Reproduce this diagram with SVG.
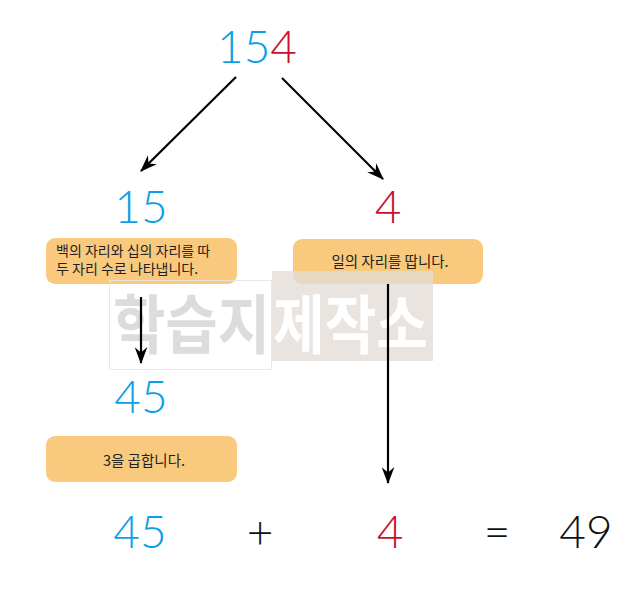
<svg xmlns="http://www.w3.org/2000/svg" width="642" height="594" viewBox="0 0 642 594">
<defs>
<style>
.num{font-family:Lato,"Open Sans","Noto Sans",sans-serif;font-weight:300;font-size:46px;text-anchor:middle}
.blue{fill:#0aa0e6}
.red{fill:#c8102e}
.blk{fill:#111}
.box{fill:#f9ca7e}
.lbl{font-family:"Noto Sans CJK KR","Noto Sans",sans-serif;font-size:14.5px;fill:#222}
.edge{stroke:#000;stroke-width:2.2;fill:none;marker-end:url(#ah)}
.wm{font-family:"Noto Sans CJK KR",sans-serif;font-weight:700;font-size:64px}
</style>
<marker id="ah" viewBox="0 0 16 12" refX="15" refY="6" markerWidth="17" markerHeight="13" orient="auto" markerUnits="userSpaceOnUse">
<path d="M0,0 L16,6 L0,12 L5,6 Z" fill="#000"/>
</marker>
</defs>
<rect width="642" height="594" fill="#fff"/>

<g id="n154"><text class="num" x="257" y="63"><tspan class="blue">15</tspan><tspan class="red">4</tspan></text></g>
<g id="n15"><text class="num blue" x="141" y="223">15</text></g>
<g id="n4"><text class="num red" x="388" y="223">4</text></g>

<g id="box1"><rect class="box" x="46" y="238" width="191" height="46" rx="9"/>
<text class="lbl" x="56" y="256" style="font-size:14px">백의 자리와 십의 자리를 따</text>
<text class="lbl" x="56" y="274" style="font-size:14px">두 자리 수로 나타냅니다.</text></g>
<g id="box2"><rect class="box" x="293" y="239" width="190" height="45" rx="9"/>
<text class="lbl" x="390" y="267" text-anchor="middle">일의 자리를 땁니다.</text></g>

<g id="watermark" opacity="0.9">
<rect x="109.5" y="280.5" width="162" height="89" fill="none" stroke="#e6e6e6" stroke-width="1"/>
<text class="wm" x="113" y="348" fill="#d9d9d9" textLength="157" lengthAdjust="spacingAndGlyphs">학습지</text>
<rect x="272" y="271" width="161" height="90" fill="#e3ddd6" opacity="0.85"/>
<text class="wm" x="273" y="348" fill="#fff" textLength="155" lengthAdjust="spacingAndGlyphs">제작소</text>
</g>

<g id="n45"><text class="num blue" x="141" y="413">45</text></g>
<g id="box3"><rect class="box" x="46" y="436" width="191" height="46" rx="9"/>
<text class="lbl" x="144" y="466" text-anchor="middle">3을 곱합니다.</text></g>

<g id="eq">
<text class="num blue" x="140" y="548">45</text>
<text class="num blk" x="260" y="548">+</text>
<text class="num red" x="390" y="548">4</text>
<text class="num blk" x="497" y="548">=</text>
<text class="num blk" x="586" y="548">49</text>
</g>

<g id="connectors">
<line class="edge" x1="236" y1="77" x2="141" y2="171"/>
<line class="edge" x1="282" y1="78" x2="383" y2="179"/>
<line class="edge" x1="141" y1="297" x2="141" y2="363"/>
<line class="edge" x1="388" y1="284" x2="388" y2="483"/>
</g>
</svg>
